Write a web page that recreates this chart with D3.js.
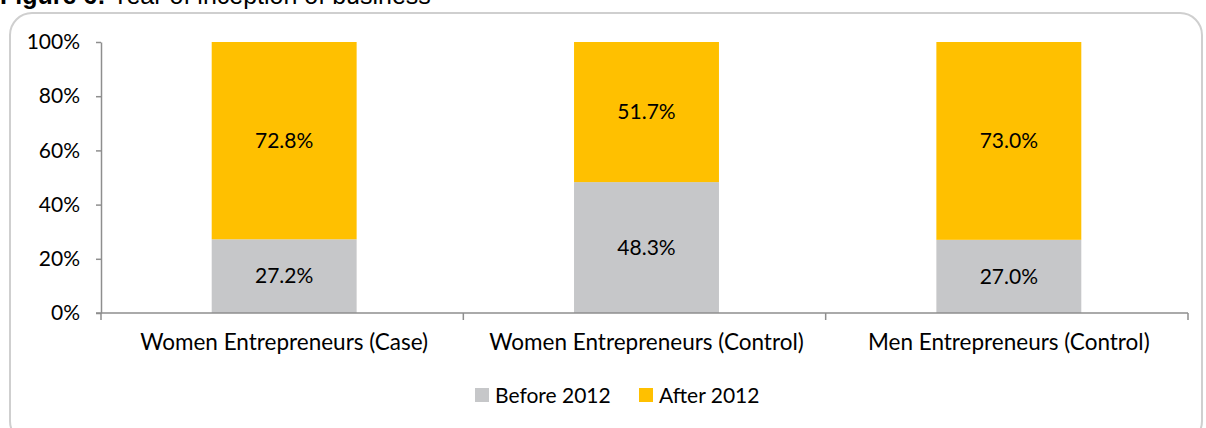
<!DOCTYPE html>
<html>
<head>
<meta charset="utf-8">
<script src="https://cdn.jsdelivr.net/npm/d3@7"></script>
<style>
  html, body { margin: 0; padding: 0; background: #ffffff; }
  svg { display: block; }
</style>
</head>
<body>
<svg id="chart" width="1206" height="428"></svg>
<script>
// Business inception period by respondent group (share of respondents)
const categories = ["Women Entrepreneurs (Case)", "Women Entrepreneurs (Control)", "Men Entrepreneurs (Control)"];
const seriesNames = ["Before 2012", "After 2012"];
const beforeValues = [27.2, 48.3, 27.0];
const afterValues = [72.8, 51.7, 73.0];
const yTicks = [0, 20, 40, 60, 80, 100];
const colors = ["#c6c7c9", "#ffc000"];

const svg = d3.select("#chart");
const labelFont = "Lato, 'Open Sans', sans-serif";
const labelSize = 21;

// Figure caption (partially above the frame)
svg.append("text")
  .attr("x", 0).attr("y", 4)
  .attr("font-family", "'Liberation Sans', Arial, sans-serif")
  .attr("font-size", 25)
  .attr("fill", "#000")
  .call(t => {
    t.append("tspan").attr("font-weight", "bold").text("Figure 6:");
    t.append("tspan").text(" Year of inception of business");
  });

// Rounded chart frame
svg.append("rect")
  .attr("x", 10).attr("y", 13)
  .attr("width", 1192).attr("height", 430)
  .attr("rx", 22).attr("ry", 22)
  .attr("fill", "none")
  .attr("stroke", "#cfcfcf")
  .attr("stroke-width", 2);

const plot = { left: 101, right: 1188, top: 42, bottom: 313 };

const x = d3.scaleBand()
  .domain(categories)
  .range([plot.left, plot.right])
  .paddingInner(0).paddingOuter(0);

const y = d3.scaleLinear()
  .domain([0, 100])
  .range([plot.bottom, plot.top]);

const barWidth = x.bandwidth() * 0.4;

const rows = categories.map((c, i) => ({ category: c, values: [beforeValues[i], afterValues[i]] }));

// Stacked bars
rows.forEach(row => {
  let base = 0;
  row.values.forEach((v, k) => {
    const y0 = y(base), y1 = y(base + v);
    const cx = x(row.category) + x.bandwidth() / 2 + 2;
    svg.append("rect")
      .attr("x", cx - barWidth / 2)
      .attr("y", y1)
      .attr("width", barWidth)
      .attr("height", y0 - y1)
      .attr("fill", colors[k]);
    svg.append("text")
      .attr("x", cx)
      .attr("y", (y0 + y1) / 2)
      .attr("dy", "0.35em")
      .attr("text-anchor", "middle")
      .attr("font-family", labelFont)
      .attr("font-size", labelSize)
      .attr("fill", "#000")
      .text(v.toFixed(1) + "%");
    base += v;
  });
});

const axisColor = "#8e8e8e";

// Y axis
const yAxis = svg.append("g")
  .attr("transform", `translate(${plot.left},0)`)
  .call(d3.axisLeft(y).tickValues(yTicks).tickFormat(d => d + "%").tickSize(5).tickSizeOuter(0));
yAxis.select(".domain").attr("stroke", axisColor).attr("stroke-width", 1.5);
yAxis.selectAll(".tick line").attr("stroke", axisColor).attr("stroke-width", 1.5);
yAxis.selectAll(".tick text")
  .attr("x", -21)
  .attr("font-family", labelFont)
  .attr("font-size", labelSize)
  .attr("fill", "#000");

// X axis with category dividers
const xAxis = svg.append("g")
  .attr("transform", `translate(0,${plot.bottom})`);
xAxis.append("line")
  .attr("x1", plot.left - 5).attr("x2", plot.right)
  .attr("stroke", axisColor).attr("stroke-width", 1.5);
const edges = categories.map(c => x(c)).concat([plot.right]);
xAxis.selectAll("line.div")
  .data(edges)
  .enter().append("line")
  .attr("class", "div")
  .attr("x1", d => d).attr("x2", d => d)
  .attr("y1", 0).attr("y2", 7)
  .attr("stroke", axisColor).attr("stroke-width", 1.5);
xAxis.selectAll("text")
  .data(categories)
  .enter().append("text")
  .attr("x", d => x(d) + x.bandwidth() / 2 + 2)
  .attr("y", 37)
  .attr("text-anchor", "middle")
  .attr("font-family", labelFont)
  .attr("font-size", 22.5)
  .attr("fill", "#000")
  .text(d => d);

// Legend
const legendItems = [
  { name: seriesNames[0], color: colors[0], x: 475 },
  { name: seriesNames[1], color: colors[1], x: 639 }
];
const legend = svg.append("g");
legendItems.forEach(it => {
  legend.append("rect")
    .attr("x", it.x).attr("y", 388)
    .attr("width", 14).attr("height", 14)
    .attr("fill", it.color);
  legend.append("text")
    .attr("x", it.x + 20).attr("y", 403)
    .attr("font-family", labelFont)
    .attr("font-size", labelSize)
    .attr("fill", "#000")
    .text(it.name);
});
</script>
</body>
</html>
